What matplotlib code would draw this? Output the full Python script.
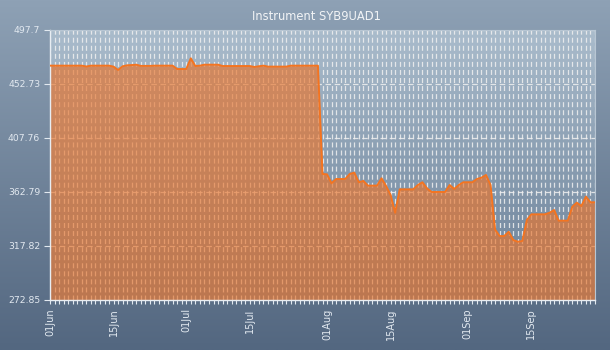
import numpy as np
import pandas as pd
import matplotlib
matplotlib.use("Agg")
import matplotlib.pyplot as plt
import matplotlib.dates as mdates
from matplotlib.colors import LinearSegmentedColormap

plt.rcParams["lines.scale_dashes"] = False
plt.rcParams["font.family"] = ["DejaVu Sans"]

# Daily readings for instrument SYB9UAD1
start_date = "2020-06-01"
values = [
    # June
    468.0, 468.0, 468.0, 468.0, 468.0, 468.0, 468.0, 468.0, 467.3, 468.0,
    468.0, 468.0, 468.0, 468.0, 467.2, 464.4, 467.5, 468.3, 468.5, 468.8,
    467.8, 467.8, 467.8, 468.0, 468.0, 468.0, 468.0, 468.0, 465.2, 465.2,
    # July
    465.2, 474.1, 467.7, 468.0, 468.8, 468.8, 468.8, 468.8, 467.7, 467.7,
    467.7, 467.7, 467.7, 467.7, 467.7, 466.9, 467.5, 468.0, 467.2, 467.2,
    467.2, 467.2, 467.2, 468.0, 468.0, 468.0, 468.0, 468.0, 468.0, 468.0,
    377.8,
    # August
    377.5, 370.0, 373.6, 373.6, 373.6, 377.8, 378.9, 370.9, 372.0, 368.1,
    368.1, 368.1, 374.2, 367.8, 360.3, 345.5, 365.0, 365.0, 365.0, 365.0,
    368.6, 370.9, 365.9, 362.8, 362.8, 362.8, 362.8, 368.6, 365.3, 368.6,
    370.9,
    # September
    370.9, 370.9, 373.6, 374.7, 377.0, 368.6, 331.5, 326.1, 326.1, 329.7,
    322.8, 321.4, 322.0, 339.5, 344.2, 344.2, 344.2, 344.2, 345.5, 347.8,
    338.9, 338.9, 338.9, 350.5, 353.9, 351.1, 358.9, 354.2, 354.2,
]
y_ticks = [272.85, 317.82, 362.79, 407.76, 452.73, 497.7]
y_tick_labels = ["272.85", "317.82", "362.79", "407.76", "452.73", "497.7"]
title = "Instrument SYB9UAD1"

dates = pd.date_range(start_date, periods=len(values), freq="D")
vals = np.array(values)

fig = plt.figure(figsize=(6.1, 3.5), dpi=100)

# Figure background gradient
bg = fig.add_axes([0, 0, 1, 1], zorder=-10)
bg_cmap = LinearSegmentedColormap.from_list("bg", ["#8ea1b5", "#536780"])
bg.imshow(np.linspace(0, 1, 256).reshape(-1, 1), aspect="auto", cmap=bg_cmap,
          extent=[0, 1, 0, 1], origin="upper")
bg.set_axis_off()

ax = fig.add_axes([50 / 610, 50 / 350, 545 / 610, 270 / 350])
ax.set_facecolor("none")

# Plot area gradient
pa_cmap = LinearSegmentedColormap.from_list("pa", ["#aabccc", "#687e96"])
ax.imshow(np.linspace(0, 1, 256).reshape(-1, 1), aspect="auto", cmap=pa_cmap,
          extent=[0, 1, 0, 1], origin="upper", transform=ax.transAxes, zorder=0)

ax.set_xlim(dates[0], dates[-1])
ax.set_ylim(y_ticks[0], y_ticks[-1])

ax.xaxis.set_major_locator(mdates.DayLocator(bymonthday=[1, 15]))
ax.xaxis.set_minor_locator(mdates.DayLocator())
ax.xaxis.set_major_formatter(mdates.DateFormatter("%d%b"))
ax.set_yticks(y_ticks)
ax.set_yticklabels(y_tick_labels)

tick_col = "#e2e9f0"
ax.tick_params(axis="x", which="both", direction="out", length=3, width=0.8,
               color=tick_col, labelcolor=tick_col, labelsize=7, pad=3)
ax.tick_params(axis="x", labelrotation=90)
ax.tick_params(axis="y", direction="out", length=4, width=0.8,
               color=tick_col, labelcolor=tick_col, labelsize=6.7, pad=3)

# Grid: vertical lines every day, horizontal lines at y ticks
ax.set_axisbelow(True)
ax.grid(True, axis="x", which="both", color="#f0f0f0", linewidth=0.9,
        linestyle=(0, (3.6, 2.2)), alpha=0.85, zorder=1)
ax.grid(True, axis="y", which="major", color="#f0f0f0", linewidth=0.9,
        linestyle=(0, (4.0, 2.6)), alpha=0.85, zorder=1)

ax.fill_between(dates, vals, y_ticks[0], color="#e8742c", alpha=0.66,
                linewidth=0, zorder=2)
ax.plot(dates, vals, color="#f47420", linewidth=1.4, zorder=3)

for side in ["left", "bottom"]:
    ax.spines[side].set_color("#e8edf2")
    ax.spines[side].set_linewidth(1.0)
for side in ["top", "right"]:
    ax.spines[side].set_color("#b8c6d3")
    ax.spines[side].set_linewidth(0.8)

fig.text(316 / 610, 1 - 17 / 350, title, ha="center", va="center",
         color="#f2f4f6", fontsize=8.3)

fig.savefig("out.png", dpi=100)
